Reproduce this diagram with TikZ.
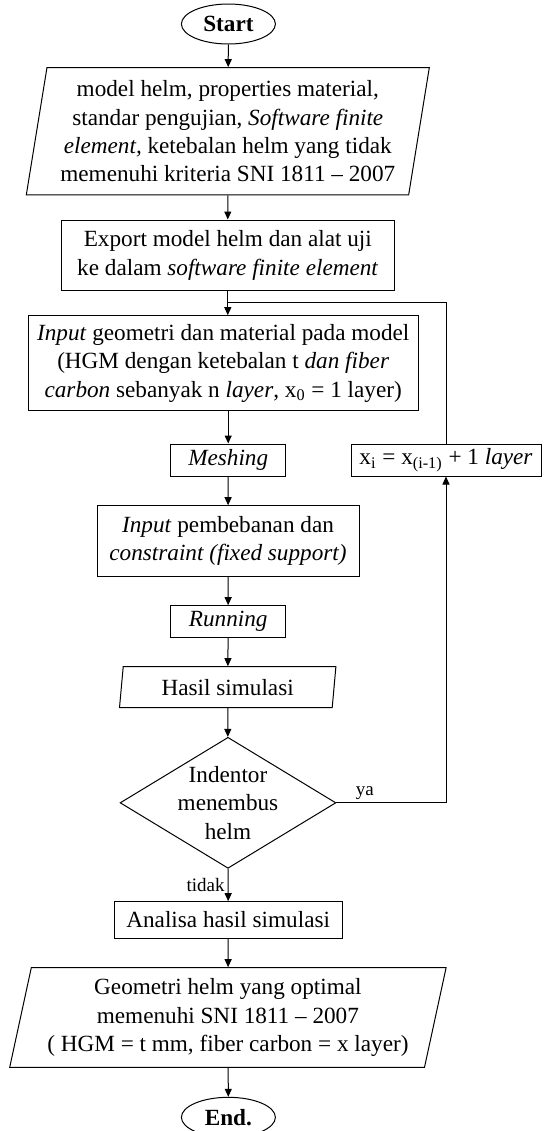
\documentclass[tikz,border=0pt]{standalone}
\usepackage{fontspec}
\setmainfont{Liberation Serif}
\usetikzlibrary{shapes.geometric,arrows.meta}

\begin{document}
\begin{tikzpicture}[x=0.5pt,y=-0.5pt,->,>={Triangle[length=4pt,width=3.5pt]},
                    line width=0.5pt,font=\fontsize{11.6}{14.2}\selectfont]
  \tikzstyle{terminal}=[draw,ellipse,minimum width=47pt,minimum height=20pt,inner sep=0pt,
                        font=\fontsize{11.6}{14.2}\selectfont\bfseries]
  \tikzstyle{io}=[draw,trapezium,trapezium stretches body,align=center,inner sep=0pt]
  \tikzstyle{process}=[draw,rectangle,align=center,inner sep=0pt]
  \tikzstyle{decision}=[draw,diamond,inner sep=0pt,minimum width=107.9pt,minimum height=65.5pt]
  \tikzstyle{answer}=[font=\fontsize{9.5}{11}\selectfont,inner sep=1.5pt]

  \useasboundingbox (0,0) rectangle (543,1131);

  \node[terminal] (start) at (228.4,24) {Start};
  \node[io,trapezium left angle=78.5,trapezium right angle=101.5,
        minimum width=201.5pt,minimum height=63.6pt] (data) at (227.8,131.3)
        {model helm, properties material,\\standar pengujian, \textit{Software finite}\\
         \textit{element,} ketebalan helm yang tidak\\memenuhi kriteria SNI 1811 – 2007};
  \node[process,minimum width=166.2pt,minimum height=35.3pt] (export) at (227.8,255.3)
        {Export model helm dan alat uji\\ke dalam \textit{software finite element}};
  \node[process,minimum width=194.8pt,minimum height=47.6pt] (geom) at (223.2,363.3)
        {\textit{Input} geometri dan material pada model\\(HGM dengan ketebalan t \textit{dan fiber}\\
         \textit{carbon} sebanyak n \textit{layer}, x\textsubscript{0} = 1 layer)};
  \node[process,minimum width=57.5pt,minimum height=16pt] (mesh) at (228.2,460) {\textit{Meshing}};
  \node[process,minimum width=95pt,minimum height=16pt] (layer) at (446,460)
        {x\textsubscript{i} = x\textsubscript{(i-1)} + 1 \textit{layer}};
  \node[process,minimum width=131pt,minimum height=35.3pt] (load) at (228,541)
        {\textit{Input} pembebanan dan\\\textit{constraint (fixed support)}};
  \node[process,minimum width=57.5pt,minimum height=15.8pt] (run) at (228.2,621.5) {\textit{Running}};
  \node[io,trapezium left angle=77.2,trapezium right angle=102.8,
        minimum width=108.2pt,minimum height=20.5pt] (result) at (227.7,687.2) {Hasil simulasi};
  \node[decision,label={[align=center]center:Indentor\\menembus\\helm}] (check) at (228,802.8) {};
  \node[process,minimum width=113.9pt,minimum height=18.3pt] (analysis) at (228.2,920)
        {Analisa hasil simulasi};
  \node[io,trapezium left angle=74.5,trapezium right angle=105.5,
        minimum width=218.2pt,minimum height=49.8pt] (output) at (227.9,1017.5)
        {Geometri helm yang optimal\\memenuhi SNI 1811 – 2007\\( HGM = t mm, fiber carbon = x layer)};
  \node[terminal] (end) at (228.4,1117.3) {End.};

  \coordinate (join) at (227.8,302.7);

  \draw (start) -- (data);
  \draw (data) -- (export);
  \draw (export) -- (export.south |- geom.north);
  \draw (mesh |- geom.south) -- (mesh);
  \draw (mesh) -- (load);
  \draw (load) -- (run);
  \draw (run) -- (result);
  \draw (result) -- (check);
  \draw (check) -- node[answer,left] {tidak} (analysis);
  \draw (analysis) -- (output);
  \draw (output) -- (end);
  \draw (check.east) -- node[answer,above,pos=0.26] {ya} (check.east -| layer.south) -- (layer.south);
  \draw[-] (layer.north) |- (join);

\end{tikzpicture}
\end{document}
